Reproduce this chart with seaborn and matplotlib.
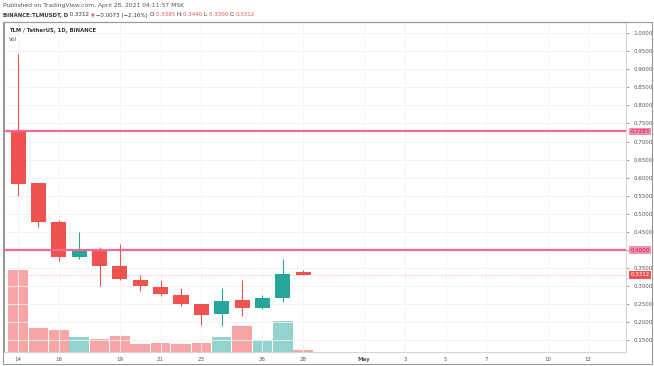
import numpy as np
import pandas as pd
import matplotlib
matplotlib.use("Agg")
import matplotlib.pyplot as plt
import seaborn as sns
from matplotlib.patches import Rectangle

# daily candles, April 14 .. April 28 (x = day of April)
days = [14, 15, 16, 17, 18, 19, 20, 21, 22, 23, 24, 25, 26, 27, 28]
opens = [0.7283, 0.584, 0.478, 0.380, 0.397, 0.357, 0.318, 0.298, 0.277, 0.250, 0.222, 0.261, 0.239, 0.267, 0.3385]
highs = [0.942, 0.586, 0.482, 0.450, 0.408, 0.416, 0.331, 0.318, 0.295, 0.252, 0.295, 0.316, 0.275, 0.376, 0.3440]
lows = [0.549, 0.464, 0.369, 0.375, 0.300, 0.316, 0.288, 0.274, 0.246, 0.193, 0.191, 0.219, 0.236, 0.256, 0.3300]
closes = [0.582, 0.478, 0.380, 0.397, 0.357, 0.319, 0.300, 0.279, 0.252, 0.221, 0.259, 0.240, 0.267, 0.335, 0.3312]
volumes = [82, 24, 22, 14.5, 13, 16, 8, 8.5, 7.5, 9, 14.5, 25.5, 12, 30.5, 2]

levels = [0.7283, 0.4000]
last_price = 0.3312

tick_pos = [14, 16, 19, 21, 23, 26, 28, 31, 33, 35, 37, 40, 42]
tick_lab = ["14", "16", "19", "21", "23", "26", "28", "May", "3", "5", "7", "10", "12"]
price_ticks = np.round(np.arange(0.15, 1.0001, 0.05), 2)

df = pd.DataFrame({"day": days, "open": opens, "high": highs, "low": lows,
                   "close": closes, "volume": volumes})
df["up"] = df["close"] >= df["open"]

UP, DOWN = "#26a69a", "#ef5350"
UP_V, DOWN_V = "#94d3cd", "#f6a7a5"
LEVEL = "#f06a93"
TXT = "#333333"
FS = 4.0

sns.set_style("white")
plt.rcParams["font.family"] = ["DejaVu Sans"]

fig = plt.figure(figsize=(6.54, 3.66), dpi=100)
ax = fig.add_axes([4 / 654, (366 - 351.5) / 366, (626 - 4) / 654, (351.5 - 22) / 366])
axv = ax.twinx()
ax.set_zorder(axv.get_zorder() + 1)
ax.patch.set_visible(False)

# volume
vcol = np.where(df["up"], UP_V, DOWN_V)
axv.bar(df["day"], df["volume"], width=0.96, color=vcol, linewidth=0)
axv.set_ylim(0, 329.5)
axv.set_yticks([])
for s in axv.spines.values():
    s.set_visible(False)

# grid
for p in price_ticks:
    ax.axhline(p, color="#f0f2f6", lw=0.6, zorder=0)
for t in tick_pos:
    ax.axvline(t, color="#f0f2f6", lw=0.6, zorder=0)

# candles
for _, r in df.iterrows():
    c = UP if r["up"] else DOWN
    ax.vlines(r["day"], r["low"], r["high"], color=c, lw=0.8, zorder=3)
    lo, hi = sorted([r["open"], r["close"]])
    ax.bar(r["day"], max(hi - lo, 0.002), bottom=lo, width=0.74, color=c, linewidth=0, zorder=4)

# horizontal levels and last price
for lv in levels:
    ax.axhline(lv, color=LEVEL, lw=1.6, zorder=5)
ax.axhline(last_price, color="#f6b8b7", lw=0.6, ls=(0, (1, 1)), zorder=2)

ax.set_xlim(13.31, 43.85)
ax.set_ylim(0.1195, 1.0305)
ax.yaxis.tick_right()
ax.set_yticks(price_ticks)
ax.set_yticklabels(["" if abs(p - 0.40) < 1e-9 else f"{p:.4f}" for p in price_ticks])
ax.set_xticks(tick_pos)
ax.set_xticklabels(tick_lab)
ax.tick_params(axis="both", labelsize=FS, colors="#555555", length=2, width=0.4, pad=1.8)
ax.tick_params(axis="y", pad=3.5)
for lbl in ax.get_xticklabels():
    if lbl.get_text() == "May":
        lbl.set_fontweight("bold")
for name, s in ax.spines.items():
    s.set_color("#d6d6d6")
    s.set_linewidth(0.8)
ax.spines["left"].set_color("#9a9a9a")
ax.spines["top"].set_color("#9a9a9a")

# price boxes on the right scale
boxes = [(0.7283, "#f48fb1", "#c2185b"), (0.4000, "#f48fb1", "#c2185b"), (last_price, "#ef5350", "white")]
for val, bg, fg in boxes:
    ax.annotate(f"{val:.4f}", xy=(1, val), xycoords=("axes fraction", "data"),
                xytext=(3.2, 0), textcoords="offset points", ha="left", va="center",
                fontsize=FS, color=fg, zorder=10, annotation_clip=False,
                bbox=dict(boxstyle="square,pad=0.22", fc=bg, ec="none"))

# outer frame
fig.patches.append(Rectangle((3 / 654, (366 - 364) / 366), 649 / 654, 342 / 366,
                             transform=fig.transFigure, fill=False, ec="#9a9a9a", lw=0.8))

# header texts
fig.text(3 / 654, 1 - 5 / 366, "Published on TradingView.com, April 28, 2021 04:11:57 MSK",
         fontsize=4.3, color="#555555", va="center")
parts = [(" 0.3312 ", TXT), ("\u25bc", DOWN), (" \u22120.0073 (\u22122.16%) ", TXT),
         ("O:", TXT), ("0.3385 ", DOWN), ("H:", TXT), ("0.3440 ", DOWN),
         ("L:", TXT), ("0.3300 ", DOWN), ("C:", TXT), ("0.3312", DOWN)]
anchor = fig.text(3 / 654, 1 - 17.5 / 366, "BINANCE:TLMUSDT, D", fontsize=3.9, color=TXT,
                  fontweight="bold", va="bottom")
for txt, col in parts:
    anchor = ax.annotate(txt, xy=(1, 0), xycoords=anchor, va="bottom", ha="left",
                         fontsize=4.0 if txt != "\u25bc" else 3.4, color=col,
                         annotation_clip=False)

ax.text(0.008, 0.975, "TLM / TetherUS, 1D, BINANCE", transform=ax.transAxes, fontsize=3.8,
        fontweight="bold", color=TXT, va="center")
ax.text(0.008, 0.947, "Vol", transform=ax.transAxes, fontsize=3.9, color="#555555", va="center")

fig.savefig("out.png", dpi=100, facecolor="white")
